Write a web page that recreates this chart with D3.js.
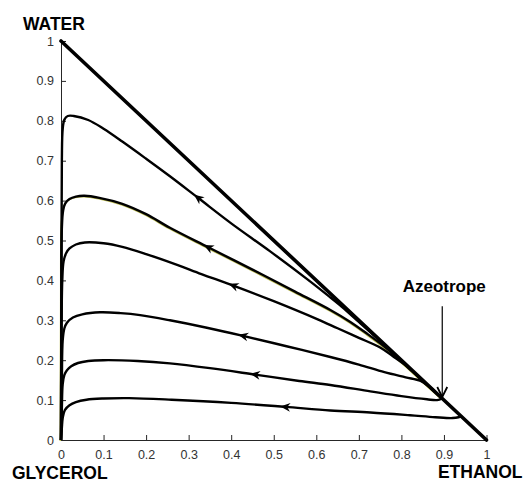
<!DOCTYPE html>
<html>
<head>
<meta charset="utf-8">
<script src="https://cdn.jsdelivr.net/npm/d3@7"></script>
<style>
  body { margin: 0; background: #fff; }
  svg { display: block; }
</style>
</head>
<body>
<svg id="chart" width="526" height="484"></svg>
<script>
// Residue curve map for ethanol (x) / water (y) / glycerol (origin)
const tickValues = [0, 0.1, 0.2, 0.3, 0.4, 0.5, 0.6, 0.7, 0.8, 0.9, 1];
const tickLabels = ["0", "0.1", "0.2", "0.3", "0.4", "0.5", "0.6", "0.7", "0.8", "0.9", "1"];

// Residue curves, listed from the glycerol vertex towards the azeotrope
const curveA = [[0,0],[0.002,0.03],[0.004,0.055],[0.009,0.075],[0.02,0.087],[0.035,0.095],[0.06,0.101],[0.1,0.104],[0.16,0.105],[0.26,0.101],[0.4,0.093],[0.527,0.083],[0.633,0.074],[0.727,0.069],[0.82,0.062],[0.88,0.057],[0.92,0.055],[0.934,0.057],[0.941,0.06]];
const curveB = [[0,0],[0.002,0.08],[0.004,0.14],[0.008,0.163],[0.014,0.175],[0.024,0.185],[0.04,0.193],[0.064,0.198],[0.1,0.2],[0.18,0.198],[0.256,0.192],[0.35,0.18],[0.456,0.164],[0.56,0.148],[0.633,0.138],[0.727,0.122],[0.8,0.11],[0.86,0.102],[0.884,0.1],[0.896,0.104]];
const curveC = [[0,0],[0.002,0.15],[0.004,0.25],[0.008,0.28],[0.014,0.294],[0.028,0.307],[0.05,0.315],[0.092,0.32],[0.14,0.318],[0.186,0.313],[0.256,0.3],[0.34,0.282],[0.428,0.261],[0.53,0.235],[0.633,0.208],[0.7,0.189],[0.76,0.17],[0.81,0.157],[0.845,0.148],[0.865,0.134],[0.88,0.12],[0.896,0.104]];
const curveD = [[0,0],[0.001,0.25],[0.003,0.4],[0.006,0.447],[0.012,0.468],[0.02,0.48],[0.035,0.49],[0.056,0.495],[0.1,0.493],[0.144,0.484],[0.2,0.466],[0.268,0.441],[0.33,0.416],[0.405,0.387],[0.5,0.348],[0.602,0.303],[0.65,0.28],[0.7,0.256],[0.75,0.232],[0.78,0.21],[0.81,0.187],[0.85,0.149],[0.896,0.104]];
const curveE = [[0,0],[0.001,0.35],[0.002,0.53],[0.005,0.575],[0.01,0.593],[0.02,0.604],[0.035,0.61],[0.055,0.612],[0.09,0.607],[0.144,0.592],[0.2,0.566],[0.256,0.532],[0.346,0.483],[0.45,0.427],[0.55,0.372],[0.633,0.326],[0.68,0.296],[0.72,0.266],[0.76,0.234],[0.79,0.207],[0.83,0.168],[0.896,0.104]];
const curveF = [[0,0],[0.001,0.45],[0.002,0.7],[0.004,0.78],[0.008,0.803],[0.016,0.812],[0.03,0.812],[0.064,0.802],[0.1,0.78],[0.144,0.748],[0.2,0.705],[0.256,0.661],[0.322,0.607],[0.4,0.543],[0.49,0.474],[0.58,0.402],[0.63,0.36],[0.66,0.334],[0.7,0.296],[0.75,0.248],[0.8,0.198],[0.85,0.148],[0.896,0.104]];
const curves = [curveA, curveB, curveC, curveD, curveE, curveF];

// x position of the direction arrow on each curve
const arrowX = [0.527, 0.456, 0.428, 0.405, 0.346, 0.322];

// water-ethanol edge of the triangle and the azeotrope on it
const edge = [[0, 1], [1, 0]];
const azeotrope = [0.896, 0.104];

const svg = d3.select("#chart");
const x = d3.scaleLinear().domain([0, 1]).range([61, 486.5]);
const y = d3.scaleLinear().domain([0, 1]).range([440, 41]);

const font = "'Liberation Sans', Arial, Helvetica, sans-serif";
const axisColor = "#262626";

// axes: inward ticks, no box
const xAxis = d3.axisBottom(x).tickValues(tickValues)
  .tickFormat((d, i) => tickLabels[i]).tickSize(-5).tickSizeOuter(0).tickPadding(10);
const yAxis = d3.axisLeft(y).tickValues(tickValues)
  .tickFormat((d, i) => tickLabels[i]).tickSize(-5).tickSizeOuter(0).tickPadding(7);

const gx = svg.append("g").attr("transform", `translate(0,${y(0)})`).call(xAxis);
const gy = svg.append("g").attr("transform", `translate(${x(0)},0)`).call(yAxis);
[gx, gy].forEach(g => {
  g.attr("font-family", null).attr("font-size", null);
  g.select(".domain").attr("stroke", axisColor).attr("stroke-width", 1);
  g.selectAll(".tick line").attr("stroke", axisColor).attr("stroke-width", 1);
  g.selectAll(".tick text").attr("fill", "#333").style("font-family", font).style("font-size", "12.5px");
});

const line = d3.line()
  .x(d => x(d[0]))
  .y(d => y(d[1]))
  .curve(d3.curveCatmullRom.alpha(0.5));

const plot = svg.append("g");

// faint yellow trace beneath one of the curves
plot.append("path").datum(curveE)
  .attr("d", line)
  .attr("fill", "none")
  .attr("stroke", "#bdbd55")
  .attr("stroke-width", 1.6)
  .attr("transform", "translate(-0.7,0.9)");

curves.forEach((pts, i) => {
  const path = plot.append("path").datum(pts)
    .attr("d", line)
    .attr("fill", "none")
    .attr("stroke", "#000")
    .attr("stroke-width", 2.4)
    .attr("stroke-linejoin", "round");

  // place the arrow where the curve crosses arrowX[i], pointing back towards glycerol
  const node = path.node();
  const total = node.getTotalLength();
  const tx = x(arrowX[i]);
  let lo = 0, hi = total;
  for (let k = 0; k < 40; k++) {
    const mid = (lo + hi) / 2;
    if (node.getPointAtLength(mid).x < tx) lo = mid; else hi = mid;
  }
  const p = node.getPointAtLength(lo);
  const q = node.getPointAtLength(Math.max(0, lo - 4));
  const ang = Math.atan2(q.y - p.y, q.x - p.x) * 180 / Math.PI;
  plot.append("path")
    .attr("d", "M5,0 L-5,-4.4 L-2,0 L-5,4.4 Z")
    .attr("fill", "#000")
    .attr("transform", `translate(${p.x},${p.y}) rotate(${ang})`);
});

// water-ethanol edge
plot.append("path").datum(edge)
  .attr("d", d3.line().x(d => x(d[0])).y(d => y(d[1])))
  .attr("stroke", "#000")
  .attr("stroke-width", 3.6)
  .attr("stroke-linecap", "round");

// azeotrope annotation
const ax = x(azeotrope[0]);
const tipY = y(azeotrope[1]) - 1.5;
const startY = y(0.335);
svg.append("line")
  .attr("x1", ax).attr("x2", ax)
  .attr("y1", startY).attr("y2", tipY)
  .attr("stroke", "#000").attr("stroke-width", 1.2);
svg.append("path")
  .attr("d", `M${ax - 5},${tipY - 10} L${ax},${tipY} L${ax + 5},${tipY - 10}`)
  .attr("fill", "none").attr("stroke", "#000").attr("stroke-width", 1.8);
svg.append("text")
  .attr("x", ax + 2).attr("y", startY - 14)
  .attr("text-anchor", "middle")
  .style("font-family", font).style("font-size", "17px").style("font-weight", "bold")
  .text("Azeotrope");

// vertex names
const labels = svg.append("g")
  .style("font-family", font).style("font-weight", "bold").style("font-size", "17.5px").attr("fill", "#000");
labels.append("text").attr("x", x(0) - 38).attr("y", y(1) - 11).text("WATER");
labels.append("text").attr("x", x(0) - 49).attr("y", y(0) + 39).text("GLYCEROL");
labels.append("text").attr("x", x(1) + 36).attr("y", y(0) + 38).attr("text-anchor", "end").text("ETHANOL");
</script>
</body>
</html>
